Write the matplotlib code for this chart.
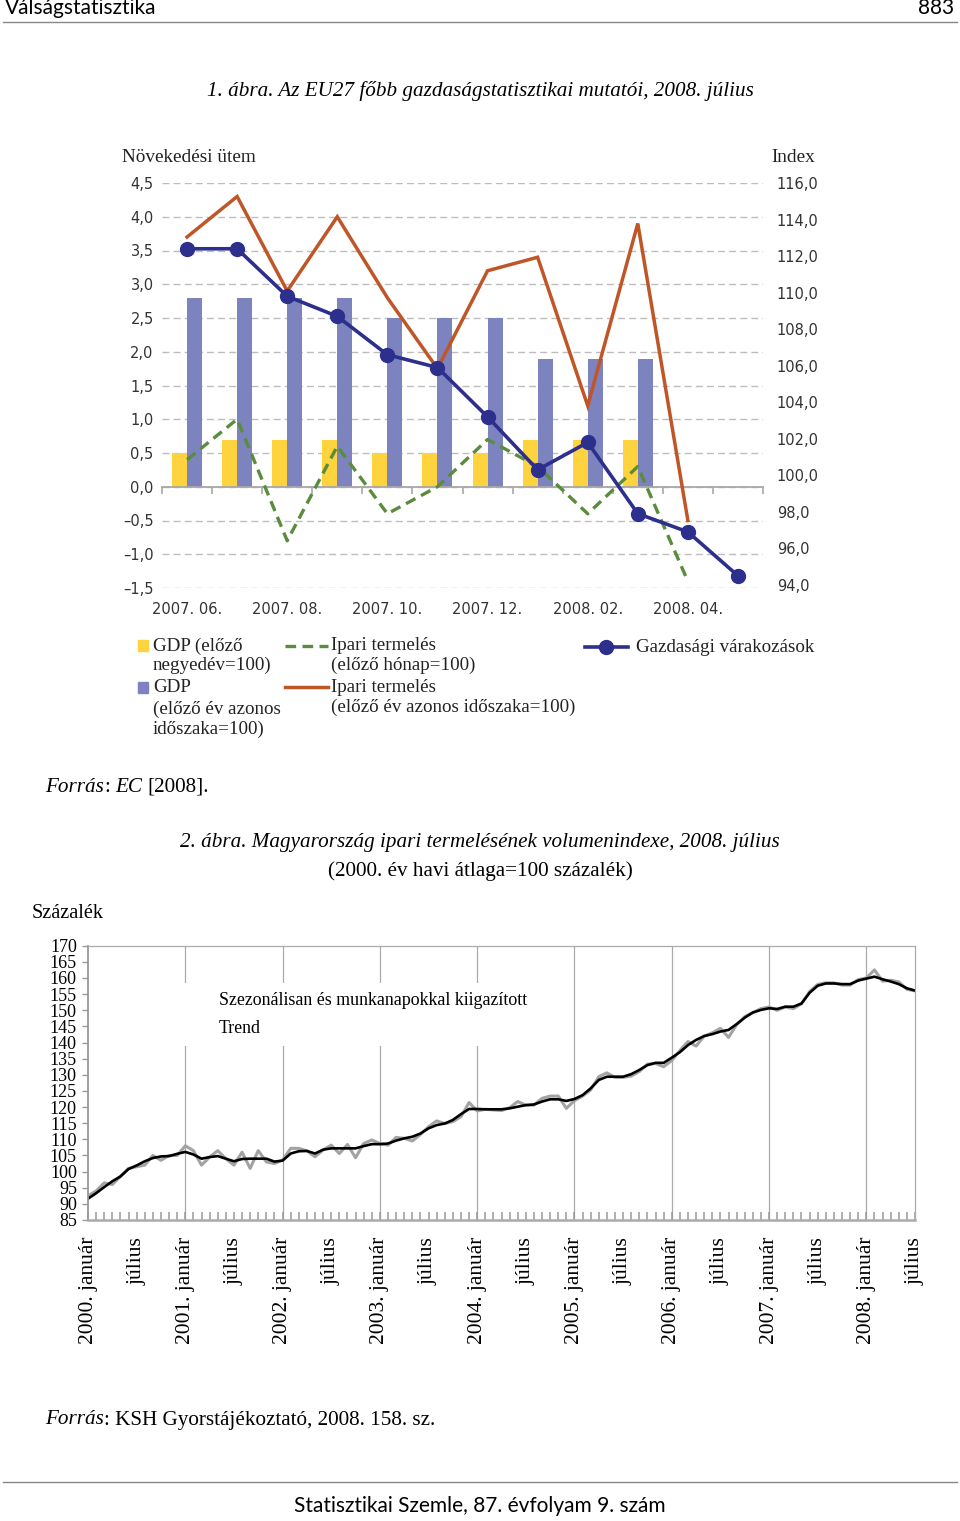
import matplotlib
matplotlib.use("Agg")
import matplotlib.pyplot as plt
import numpy as np
from matplotlib.lines import Line2D
from matplotlib.patches import Rectangle

# ---------------- data: chart 1 (EU27, 2007.06 - 2008.05) ----------------
months = ["2007. 06.", "2007. 07.", "2007. 08.", "2007. 09.", "2007. 10.", "2007. 11.",
          "2007. 12.", "2008. 01.", "2008. 02.", "2008. 03.", "2008. 04.", "2008. 05."]
gdp_qoq = [0.5, 0.7, 0.7, 0.7, 0.5, 0.5, 0.5, 0.7, 0.7, 0.7]
gdp_yoy = [2.8, 2.8, 2.8, 2.8, 2.5, 2.5, 2.5, 1.9, 1.9, 1.9]
ip_mom = [0.4, 1.0, -0.8, 0.6, -0.4, 0.0, 0.7, 0.3, -0.4, 0.3, -1.4]
ip_yoy = [3.7, 4.3, 2.9, 4.0, 2.8, 1.75, 3.2, 3.4, 1.2, 3.9, -0.5]
esi = [112.4, 112.4, 109.8, 108.7, 106.6, 105.9, 103.2, 100.3, 101.8, 97.9, 96.9, 94.5]

# ---------------- data: chart 2 (HU industrial production, 2000.01 - 2008.07) ----------------
ip_sa = [92.5, 94.0, 96.5, 96.0, 98.5, 101.0, 101.5, 102.0, 105.0, 103.5, 105.0, 105.0,
         108.0, 106.5, 102.0, 104.5, 106.5, 104.0, 102.0, 106.0, 101.0, 106.5, 103.0, 102.5,
         103.6, 107.2, 107.2, 106.4, 104.6, 106.7, 108.2, 105.6, 108.4, 104.3, 108.7, 109.8,
         108.7, 108.2, 110.6, 110.3, 109.5, 111.5, 113.9, 115.7, 114.9, 115.5, 117.0, 121.4,
         118.8, 119.3, 119.1, 118.9, 119.8, 121.7, 120.6, 120.6, 122.7, 123.4, 123.4, 119.6,
         122.0, 123.4, 125.3, 129.4, 130.6, 129.2, 129.2, 129.6, 131.0, 133.3, 133.5, 132.5,
         134.4, 137.5, 140.3, 138.9, 142.0, 143.0, 144.4, 141.6, 145.5, 148.0, 149.3, 150.5,
         151.0, 150.0, 151.0, 150.5, 152.0, 155.8, 158.0, 158.5, 158.5, 157.8, 157.8, 159.5,
         160.0, 162.5, 159.0, 159.3, 158.8, 156.5, 156.0]
ip_trend = [91.6, 93.3, 95.2, 97.0, 98.5, 100.8, 101.9, 103.2, 104.2, 104.7, 104.8, 105.5,
            106.1, 105.3, 104.0, 104.5, 104.8, 104.0, 103.2, 103.9, 104.0, 104.0, 104.0, 103.1,
            103.4, 105.6, 106.3, 106.4, 105.6, 106.8, 107.2, 107.2, 107.2, 107.2, 107.9, 108.5,
            108.5, 108.7, 109.6, 110.3, 110.8, 111.8, 113.4, 114.4, 114.9, 116.0, 117.8, 119.4,
            119.4, 119.3, 119.3, 119.3, 119.6, 120.1, 120.6, 120.8, 121.7, 122.4, 122.4, 121.9,
            122.5, 123.7, 125.8, 128.4, 129.4, 129.4, 129.4, 130.2, 131.5, 133.0, 133.7, 133.7,
            135.3, 137.0, 139.2, 140.8, 142.0, 142.6, 143.4, 143.9, 145.7, 147.7, 149.3, 150.1,
            150.6, 150.4, 151.1, 151.1, 152.1, 155.4, 157.6, 158.3, 158.3, 158.1, 158.1, 159.2,
            159.8, 160.4, 159.6, 158.9, 158.1, 156.8, 156.1]
half_year_labels = ["2000. január", "július", "2001. január", "július", "2002. január", "július",
                    "2003. január", "július", "2004. január", "július", "2005. január", "július",
                    "2006. január", "július", "2007. január", "július", "2008. január", "július"]

YELLOW = "#FFD33D"
LILAC = "#7D83BE"
ORANGE = "#C05628"
GREEN = "#5B8C3E"
NAVY = "#2C2F8C"
SERIF = "Liberation Serif"
SANS = "DejaVu Sans"

W, H = 960, 1521
fig = plt.figure(figsize=(W / 100, H / 100), dpi=100)


def frac(left, top, right, bottom):
    return [left / W, 1 - bottom / H, (right - left) / W, (bottom - top) / H]


# page overlay in pixel coordinates
page = fig.add_axes([0, 0, 1, 1])
page.set_xlim(0, W)
page.set_ylim(H, 0)
page.axis("off")

# header / footer
page.text(5, 8, "Válságstatisztika", fontsize=15, family="Lato", va="center")
page.text(954, 8, "883", fontsize=15, family="Lato", va="center", ha="right")
page.plot([3, 957], [22, 22], color="#888888", lw=1)
page.plot([3, 957], [1482, 1482], color="#888888", lw=1)
page.text(480, 1506, "Statisztikai Szemle, 87. évfolyam 9. szám", fontsize=15, family="Lato",
          va="center", ha="center")

TITLE = 15.2
page.text(480, 91, "1. ábra. Az EU27 főbb gazdaságstatisztikai mutatói, 2008. július",
          fontsize=TITLE, family=SERIF, style="italic", ha="center", va="center")
page.text(480, 843, "2. ábra. Magyarország ipari termelésének volumenindexe, 2008. július",
          fontsize=TITLE, family=SERIF, style="italic", ha="center", va="center")
page.text(480, 871, "(2000. év havi átlaga=100 százalék)",
          fontsize=TITLE, family=SERIF, ha="center", va="center")
page.text(32, 914, "Százalék", fontsize=14.6, family=SERIF, va="center")

renderer = fig.canvas.get_renderer()


def mixed(x, y, parts, size=15.2):
    space = size * 0.25 * 100 / 72
    for txt, style, gap in parts:
        t = page.text(x, y, txt, fontsize=size, family=SERIF, style=style, va="center")
        x += t.get_window_extent(renderer=renderer).width + (space if gap else 0)


mixed(45, 787, [("Forrás", "italic", False), (":", "normal", True),
                ("EC", "italic", True), ("[2008].", "normal", False)])
mixed(45, 1420, [("Forrás", "italic", False),
                 (": KSH Gyorstájékoztató, 2008. 158. sz.", "normal", False)])

# ---------------- chart 1 ----------------
ax = fig.add_axes(frac(162, 183, 763, 588))
x = np.arange(len(months))
bw = 0.3
ax.bar(np.arange(len(gdp_qoq)) - bw / 2, gdp_qoq, width=bw, color=YELLOW, zorder=2)
ax.bar(np.arange(len(gdp_yoy)) + bw / 2, gdp_yoy, width=bw, color=LILAC, zorder=2)
ax.plot(np.arange(len(ip_yoy)), ip_yoy, color=ORANGE, lw=2.5, zorder=3, solid_joinstyle="miter")
ax.plot(np.arange(len(ip_mom)), ip_mom, color=GREEN, lw=2.4, ls=(0, (3.2, 1.9)), zorder=3)

ax.set_xlim(-0.5, len(months) - 0.5)
ax.set_ylim(-1.5, 4.5)
yt = np.arange(-1.5, 4.51, 0.5)
ax.set_yticks(yt)
ax.set_yticklabels([f"{v:.1f}".replace(".", ",").replace("-", "–") for v in yt],
                   family=SANS, fontsize=10.5, color="#333333")
ax.tick_params(axis="y", length=0, pad=6)
ax.yaxis.grid(True, color="#BDBDBD", lw=1, ls=(0, (5, 3)))
ax.set_axisbelow(True)
for s in ["left", "right", "top"]:
    ax.spines[s].set_visible(False)
ax.spines["bottom"].set_position(("data", 0))
ax.spines["bottom"].set_color("#A8A8A8")
ax.spines["bottom"].set_linewidth(1.3)
ax.set_xticks(x[::2])
ax.set_xticklabels(months[::2], family=SANS, fontsize=10.5, color="#333333")
ax.set_xticks(np.arange(-0.5, len(months), 1.0), minor=True)
ax.tick_params(axis="x", which="major", length=0, pad=83)
ax.tick_params(axis="x", which="minor", length=5, width=1.2, color="#A8A8A8", direction="out")
ax.patch.set_visible(False)

ax2 = ax.twinx()
ax2.plot(x, esi, color=NAVY, lw=2.6, marker="o", ms=10, zorder=4)
ax2.set_ylim(93.83, 116)
yt2 = np.arange(94, 116.1, 2)
ax2.set_yticks(yt2)
ax2.set_yticklabels([f"{v:.1f}".replace(".", ",") for v in yt2],
                    family=SANS, fontsize=10.5, color="#333333")
ax2.tick_params(axis="y", length=0, pad=10)
for s in ax2.spines.values():
    s.set_visible(False)

page.text(122, 157, "Növekedési ütem", fontsize=13.9, family=SERIF, va="center", color="#222222")
page.text(771, 157, "Index", fontsize=13.9, family=SERIF, va="center", color="#222222")

# legend of chart 1
page.add_patch(Rectangle((138, 640), 10, 11, color=YELLOW))
page.add_patch(Rectangle((138, 682), 10, 11, color=LILAC))
page.add_line(Line2D([285, 328], [646, 646], color=GREEN, lw=2.4, ls=(0, (3.2, 1.9))))
page.add_line(Line2D([285, 328], [687, 687], color=ORANGE, lw=2.5))
page.add_line(Line2D([585, 628], [647, 647], color=NAVY, lw=2.6))
page.add_line(Line2D([606], [647], color=NAVY, marker="o", ms=10))
leg_text = [(153, 646, "GDP (előző"), (153, 665, "negyedév=100)"),
            (153, 687, "GDP"), (153, 709, "(előző év azonos"), (153, 729, "időszaka=100)"),
            (331, 646, "Ipari termelés"), (331, 665, "(előző hónap=100)"),
            (331, 687, "Ipari termelés"), (331, 707, "(előző év azonos időszaka=100)"),
            (636, 647, "Gazdasági várakozások")]
for tx, ty, s in leg_text:
    page.text(tx, ty, s, fontsize=13.7, family=SERIF, va="center", color="#222222")

# ---------------- chart 2 ----------------
bx = fig.add_axes(frac(88, 945.7, 915, 1220))
t = np.arange(len(ip_trend))
l1, = bx.plot(t, ip_sa, color="#A3A3A3", lw=2.2)
l2, = bx.plot(t, ip_trend, color="black", lw=1.9)
bx.set_xlim(0, len(ip_trend) - 1)
bx.set_ylim(85, 170)
bx.set_yticks(np.arange(85, 171, 5))
bx.set_yticklabels([str(v) for v in range(85, 171, 5)], family=SERIF, fontsize=13)
bx.tick_params(axis="y", length=4, width=1, color="#999999", pad=4)
bx.set_xticks(np.arange(0, len(ip_trend), 6))
bx.set_xticklabels(half_year_labels, family=SERIF, fontsize=15.5, rotation=90, va="top")
bx.set_xticks(np.arange(0, len(ip_trend), 1), minor=True)
bx.tick_params(axis="x", which="both", direction="in", length=6, width=1.1, color="#999999", pad=12)
for v in range(12, len(ip_trend), 12):
    bx.axvline(v, color="#AAAAAA", lw=0.9, zorder=0)
for s in bx.spines.values():
    s.set_color("#AAAAAA")
    s.set_linewidth(0.9)
bx.spines["bottom"].set_linewidth(1.8)
bx.spines["left"].set_color("#999999")
bx.spines["left"].set_linewidth(1.3)

leg = bx.legend([l1, l2], ["Szezonálisan és munkanapokkal kiigazított", "Trend"],
                loc="upper left", bbox_to_anchor=(0.063, 0.895), frameon=True,
                prop={"family": SERIF, "size": 12.9}, handlelength=2.6, handletextpad=0.8,
                borderpad=0.5, labelspacing=0.6, fancybox=False)
leg.get_frame().set_facecolor("white")
leg.get_frame().set_edgecolor("none")
leg.get_frame().set_alpha(1)
for h in leg.get_lines():
    h.set_visible(False)

fig.savefig("out.png", dpi=100)
